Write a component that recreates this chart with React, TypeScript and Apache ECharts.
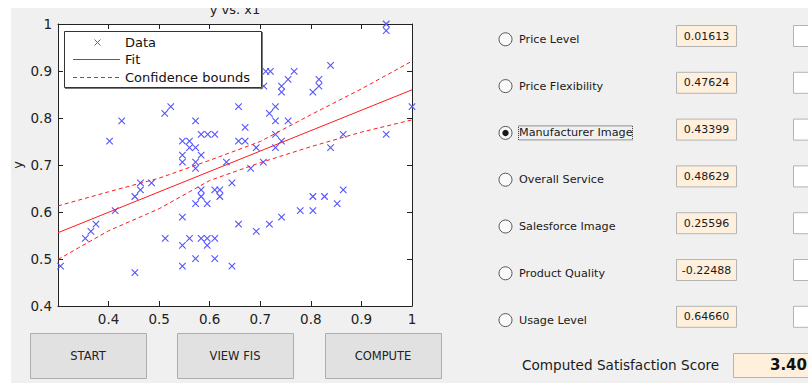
import React, { useEffect, useRef } from "react";
import * as echarts from "echarts";

// scatter data (x1, y)
const xData = [
  0.305, 0.354, 0.365, 0.375, 0.402, 0.413, 0.426, 0.452, 0.452, 0.463,
  0.463, 0.485, 0.511, 0.512, 0.523, 0.546, 0.546, 0.546, 0.546, 0.546,
  0.546, 0.56, 0.56, 0.56, 0.572, 0.572, 0.572, 0.572, 0.572, 0.572,
  0.583, 0.583, 0.583, 0.583, 0.583, 0.596, 0.595, 0.595, 0.595, 0.61,
  0.61, 0.61, 0.61, 0.62, 0.62, 0.633, 0.644, 0.644, 0.657, 0.657,
  0.657, 0.67, 0.67, 0.681, 0.692, 0.692, 0.706, 0.707, 0.711, 0.72,
  0.718, 0.718, 0.73, 0.73, 0.73, 0.73, 0.742, 0.742, 0.742, 0.742,
  0.755, 0.755, 0.767, 0.779, 0.804, 0.804, 0.804, 0.816, 0.816, 0.827,
  0.839, 0.839, 0.852, 0.864, 0.864, 0.949, 0.949, 0.949, 1.0,
];
const yData = [
  0.485, 0.544, 0.559, 0.574, 0.751, 0.603, 0.794, 0.633, 0.471, 0.662,
  0.647, 0.662, 0.81, 0.544, 0.824, 0.751, 0.721, 0.706, 0.589, 0.529,
  0.485, 0.751, 0.737, 0.544, 0.794, 0.737, 0.706, 0.693, 0.618, 0.501,
  0.765, 0.721, 0.647, 0.633, 0.544, 0.765, 0.618, 0.544, 0.529, 0.765,
  0.647, 0.544, 0.501, 0.647, 0.633, 0.706, 0.662, 0.485, 0.824, 0.751,
  0.574, 0.78, 0.751, 0.693, 0.737, 0.559, 0.706, 0.868, 0.899, 0.899,
  0.81, 0.574, 0.824, 0.794, 0.765, 0.737, 0.868, 0.855, 0.751, 0.589,
  0.882, 0.794, 0.899, 0.603, 0.855, 0.633, 0.603, 0.882, 0.868, 0.633,
  0.912, 0.737, 0.618, 0.765, 0.647, 1.0, 0.986, 0.765, 0.824,
];

// fit line
const fitX = [0.3, 1.0];
const fitY = [0.556, 0.86];

// confidence bounds
const boundX = [0.3, 0.4, 0.5, 0.6, 0.7, 0.8, 0.9, 1.0];
const upperY = [0.613, 0.643, 0.672, 0.71, 0.75, 0.807, 0.862, 0.921];
const lowerY = [0.499, 0.56, 0.607, 0.667, 0.705, 0.739, 0.77, 0.796];

// axis ticks
const xTickMin = 0.3;
const xTickMax = 1.0;
const yTickMin = 0.4;
const yTickMax = 1.0;
const tickStep = 0.1;

// right panel
const factorNames = [
  "Price Level",
  "Price Flexibility",
  "Manufacturer Image",
  "Overall Service",
  "Salesforce Image",
  "Product Quality",
  "Usage Level",
];
const factorValues = ["0.01613", "0.47624", "0.43399", "0.48629", "0.25596", "-0.22488", "0.64660"];
const selectedFactor = 2;
const buttonLabels = ["START", "VIEW FIS", "COMPUTE"];
const scoreLabel = "Computed Satisfaction Score";
const scoreValue = "3.40";
const chartTitle = "y vs. x1";
const xName = "x1";
const yName = "y";
const legendNames = ["Data", "Fit", "Confidence bounds"];

const FONT = "'DejaVu Sans', Verdana, sans-serif";
const BLUE = "#5454ff";
const RED = "#ff1a1a";
const PEACH = "#ffefdd";

export default function App() {
  const ref = useRef<HTMLDivElement>(null);
  useEffect(() => {
    document.body.style.margin = "0";
    const chart = echarts.init(ref.current!, undefined, { renderer: "svg" });

    const scatterData = xData.map((x, i) => [x, yData[i]]);
    const fitData = fitX.map((x, i) => [x, fitY[i]]);
    const upData = boundX.map((x, i) => [x, upperY[i]]);
    const lowData = boundX.map((x, i) => [x, lowerY[i]]);

    const g: any[] = [];
    // title (partly clipped by white strip)
    g.push({
      type: "text", x: 235, y: 9, z: 10,
      style: { text: chartTitle, font: `13px ${FONT}`, fill: "#222", textAlign: "center", textVerticalAlign: "middle" },
    });
    // y axis name
    g.push({
      type: "text", x: 17, y: 165, rotation: Math.PI / 2, z: 10,
      style: { text: yName, font: `13px ${FONT}`, fill: "#222", textAlign: "center", textVerticalAlign: "middle" },
    });
    // x axis name (mostly covered by buttons)
    g.push({
      type: "text", x: 234, y: 339, z: 10,
      style: { text: xName, font: `13px ${FONT}`, fill: "#222", textAlign: "center", textVerticalAlign: "middle" },
    });
    // legend
    g.push({ type: "rect", z: 100, shape: { x: 64.5, y: 31.5, width: 197, height: 56 }, style: { fill: "#fff", stroke: "#333", lineWidth: 1 } });
    g.push({ type: "line", z: 101, shape: { x1: 262.5, y1: 32, x2: 262.5, y2: 88.5 }, style: { stroke: "#777", lineWidth: 1 } });
    g.push({ type: "line", z: 101, shape: { x1: 65, y1: 88.5, x2: 263, y2: 88.5 }, style: { stroke: "#777", lineWidth: 1 } });
    g.push({ type: "line", z: 101, shape: { x1: 94.5, y1: 39.5, x2: 100.5, y2: 45.5 }, style: { stroke: BLUE, lineWidth: 1 } });
    g.push({ type: "line", z: 101, shape: { x1: 100.5, y1: 39.5, x2: 94.5, y2: 45.5 }, style: { stroke: BLUE, lineWidth: 1 } });
    g.push({ type: "line", z: 101, shape: { x1: 73, y1: 59.5, x2: 120, y2: 59.5 }, style: { stroke: RED, lineWidth: 1 } });
    g.push({ type: "line", z: 101, shape: { x1: 73, y1: 77.5, x2: 120, y2: 77.5 }, style: { stroke: RED, lineWidth: 1, lineDash: [4, 3] } });
    [42, 59, 77].forEach((yy, i) => {
      g.push({
        type: "text", x: 125, y: yy, z: 101,
        style: { text: legendNames[i], font: `13px ${FONT}`, fill: "#111", textVerticalAlign: "middle" },
      });
    });
    // buttons
    const btnX = [30, 177, 325];
    btnX.forEach((bx, i) => {
      g.push({ type: "rect", z: 100, shape: { x: bx + 0.5, y: 333.5, width: 116, height: 45 }, style: { fill: "#e1e1e1", stroke: "#adadad", lineWidth: 1 } });
      g.push({
        type: "text", x: bx + 58, y: 356, z: 101,
        style: { text: buttonLabels[i], font: `11.5px ${FONT}`, fill: "#222", textAlign: "center", textVerticalAlign: "middle" },
      });
    });
    // right panel rows
    factorNames.forEach((name, i) => {
      const ry = 39.3 + i * 46.8;
      g.push({ type: "circle", z: 100, shape: { cx: 505.5, cy: ry, r: 6.5 }, style: { fill: "#fafafa", stroke: "#555", lineWidth: 1 } });
      if (i === selectedFactor) {
        g.push({ type: "circle", z: 101, shape: { cx: 505.5, cy: ry, r: 3.2 }, style: { fill: "#1a1a1a" } });
        g.push({ type: "rect", z: 101, shape: { x: 518.5, y: ry - 7, width: 114, height: 14 }, style: { fill: "none", stroke: "#333", lineWidth: 1, lineDash: [1, 1] } });
      }
      g.push({
        type: "text", x: 519, y: ry, z: 102,
        style: { text: name, font: `11.2px ${FONT}`, fill: "#1a1a1a", textVerticalAlign: "middle" },
      });
      const by = ry - 3.3;
      g.push({ type: "rect", z: 100, shape: { x: 676.5, y: by - 10.5, width: 60, height: 21 }, style: { fill: PEACH, stroke: "#b4b4b4", lineWidth: 1 } });
      g.push({
        type: "text", x: 706.5, y: by, z: 101,
        style: { text: factorValues[i], font: `11px ${FONT}`, fill: "#1a1a1a", textAlign: "center", textVerticalAlign: "middle" },
      });
      g.push({ type: "rect", z: 100, shape: { x: 793.5, y: by - 10.5, width: 30, height: 21 }, style: { fill: "#fff", stroke: "#b4b4b4", lineWidth: 1 } });
    });
    // score
    g.push({
      type: "text", x: 522, y: 365, z: 101,
      style: { text: scoreLabel, font: `13.6px ${FONT}`, fill: "#1a1a1a", textVerticalAlign: "middle" },
    });
    g.push({ type: "rect", z: 100, shape: { x: 733.5, y: 353.5, width: 90, height: 24 }, style: { fill: PEACH, stroke: "#b4b4b4", lineWidth: 1 } });
    g.push({
      type: "text", x: 807, y: 365, z: 101,
      style: { text: scoreValue, font: `bold 15px ${FONT}`, fill: "#111", textAlign: "right", textVerticalAlign: "middle" },
    });
    // white outer strips
    g.push({ type: "rect", z: 200, shape: { x: 0, y: 0, width: 808, height: 8 }, style: { fill: "#fff" } });
    g.push({ type: "rect", z: 200, shape: { x: 0, y: 0, width: 11, height: 383 }, style: { fill: "#fff" } });

    const axisCommon = {
      min: 0,
      max: 1,
      interval: tickStep,
      splitLine: { show: false },
      axisLine: { show: true, lineStyle: { color: "#222", width: 1 } },
      axisTick: { show: true, inside: true, length: 5, lineStyle: { color: "#222" } },
    };
    const xAx = { ...axisCommon, type: "value", min: xTickMin, max: xTickMax };
    const yAx = { ...axisCommon, type: "value", min: yTickMin, max: yTickMax };
    const labelStyle = { fontSize: 13.5, fontFamily: FONT, color: "#222" };

    chart.setOption({
      animation: false,
      backgroundColor: "#f0f0f0",
      grid: { left: 58, right: 396, top: 24, bottom: 77, show: true, backgroundColor: "#fff", borderWidth: 0 },
      xAxis: [
        {
          ...xAx, position: "bottom",
          axisLabel: {
            ...labelStyle, margin: 6,
            formatter: (v: number) => (Math.abs(v - xTickMin) < 1e-9 ? "" : String(+v.toFixed(1))),
          },
        },
        { ...xAx, position: "top", axisLabel: { show: false } },
      ],
      yAxis: [
        {
          ...yAx, position: "left",
          axisLabel: { ...labelStyle, margin: 6, formatter: (v: number) => String(+v.toFixed(1)) },
        },
        { ...yAx, position: "right", axisLabel: { show: false } },
      ],
      series: [
        {
          type: "scatter", name: "Data", data: scatterData, symbol: "path://M0,0L10,10M10,0L0,10", symbolSize: 6.5,
          itemStyle: { color: "transparent", borderColor: BLUE, borderWidth: 1.1, opacity: 1 }, z: 3,
        },
        { type: "line", name: "Fit", data: fitData, symbol: "none", lineStyle: { color: RED, width: 1 }, z: 4 },
        { type: "line", name: "Confidence bounds", data: upData, symbol: "none", lineStyle: { color: RED, width: 1, type: [4, 3] }, z: 4 },
        { type: "line", name: "Confidence bounds", data: lowData, symbol: "none", lineStyle: { color: RED, width: 1, type: [4, 3] }, z: 4 },
      ],
      graphic: g,
    });
    return () => chart.dispose();
  }, []);
  return <div ref={ref} style={{ position: "absolute", left: 0, top: 0, width: 808, height: 383 }} />;
}
